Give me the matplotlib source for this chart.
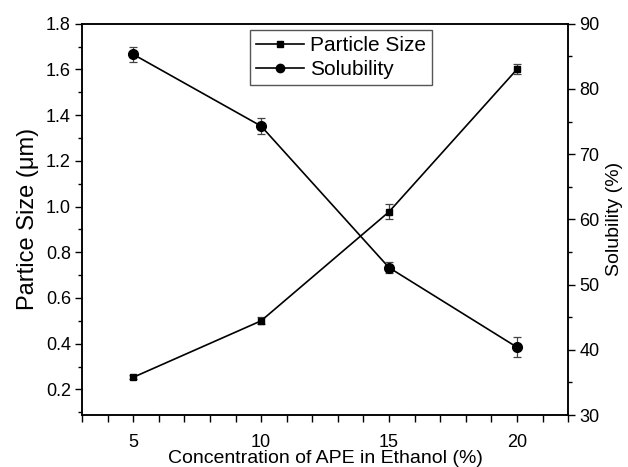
import matplotlib

matplotlib.use('Agg')
import matplotlib.pyplot as plt
from matplotlib.ticker import MultipleLocator, FormatStrFormatter
from matplotlib.lines import Line2D

plt.rcParams['font.family'] = ['Liberation Sans', 'DejaVu Sans']

# данные
conc = [5, 10, 15, 20]
size = [0.253, 0.50, 0.977, 1.60]
size_err = [0.008, 0.015, 0.033, 0.022]
solub = [85.3, 74.3, 52.6, 40.4]
solub_err = [1.1, 1.2, 0.9, 1.5]

fig = plt.figure(figsize=(6.28, 4.67), dpi=100)
ax = fig.add_axes([0.1306, 0.1113, 0.774, 0.838])
ax2 = ax.twinx()

ax.errorbar(conc, size, yerr=size_err, color='black', marker='s', markersize=5,
            linewidth=1.2, ecolor='#444444', elinewidth=0.9, capsize=3, capthick=0.9)
ax2.errorbar(conc, solub, yerr=solub_err, color='black', marker='o', markersize=7,
             linewidth=1.2, ecolor='#444444', elinewidth=0.9, capsize=3, capthick=0.9)

ax.set_xlim(3, 22)
ax.set_ylim(0.088, 1.8)
ax2.set_ylim(30, 90)

ax.xaxis.set_major_locator(MultipleLocator(5))
ax.xaxis.set_minor_locator(MultipleLocator(1))
ax.yaxis.set_major_locator(MultipleLocator(0.2))
ax.yaxis.set_minor_locator(MultipleLocator(0.1))
ax2.yaxis.set_major_locator(MultipleLocator(10))
ax2.yaxis.set_minor_locator(MultipleLocator(5))
ax.yaxis.set_major_formatter(FormatStrFormatter('%.1f'))

ax.tick_params(axis='both', which='major', direction='out', length=5, width=1,
               labelsize=13, pad=3)
ax.tick_params(axis='x', which='major', pad=9)
ax.tick_params(axis='both', which='minor', direction='out', length=3, width=1)
ax.tick_params(axis='x', which='minor', length=5)
ax2.tick_params(axis='y', which='major', direction='out', length=5, width=1,
                labelsize=13, pad=3)
ax2.tick_params(axis='y', which='minor', direction='out', length=3, width=1)

for a in (ax, ax2):
    for s in a.spines.values():
        s.set_linewidth(1.1)

ax.set_xlabel('Concentration of APE in Ethanol (%)', fontsize=14, labelpad=-1)
ax.set_ylabel('Partice Size (μm)', fontsize=17, labelpad=5)
ax2.set_ylabel('Solubility (%)', fontsize=14, labelpad=5)

h1 = Line2D([], [], color='black', marker='s', markersize=5, linewidth=1.2)
h2 = Line2D([], [], color='black', marker='o', markersize=6, linewidth=1.2)
leg = ax.legend([h1, h2], ['Particle Size', 'Solubility'], loc='upper left',
                bbox_to_anchor=(0.345, 0.985), fontsize=15, fancybox=False,
                edgecolor='#555555', framealpha=1, borderpad=0.3, labelspacing=0.25,
                handlelength=2.3, handletextpad=0.3, borderaxespad=0)
leg.get_frame().set_linewidth(1.0)

plt.savefig('out.png', dpi=100)
